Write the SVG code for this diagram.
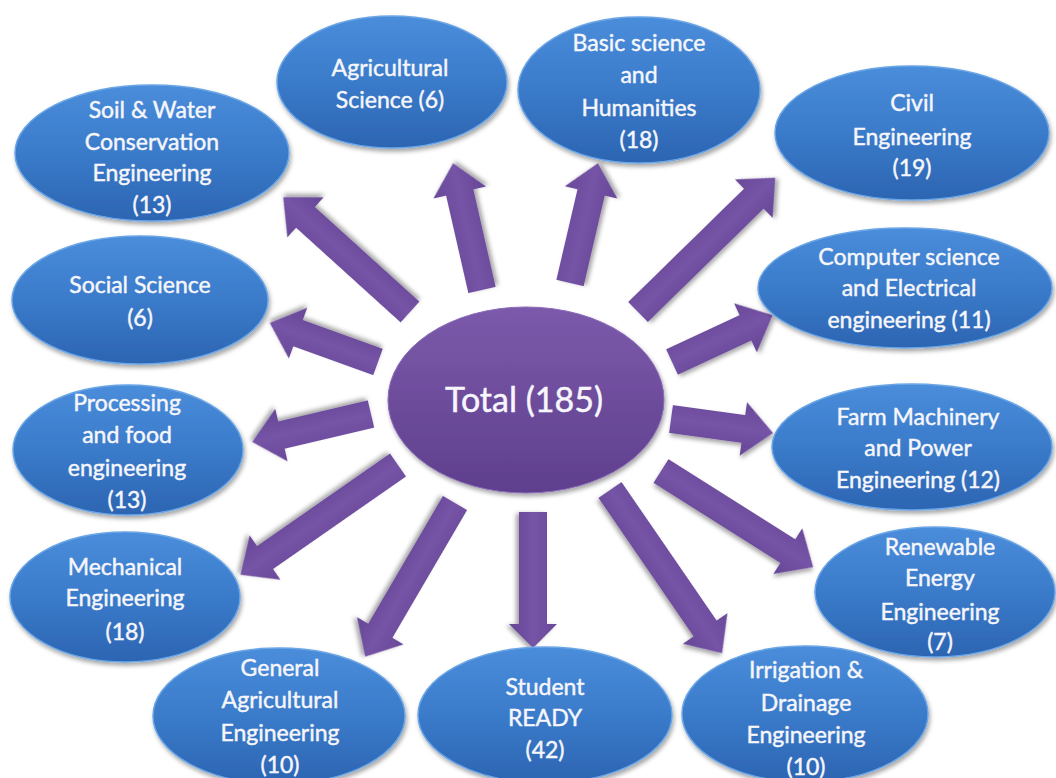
<svg xmlns="http://www.w3.org/2000/svg" width="1056" height="778" viewBox="0 0 1056 778">
  <defs>
    <linearGradient id="gBlue" x1="0" y1="0" x2="0" y2="1">
      <stop offset="0" stop-color="#4a8ddb"/>
      <stop offset="0.5" stop-color="#3a7bca"/>
      <stop offset="1" stop-color="#2c65b2"/>
    </linearGradient>
    <linearGradient id="gPurple" x1="0" y1="0" x2="0" y2="1">
      <stop offset="0" stop-color="#7c5aab"/>
      <stop offset="1" stop-color="#5e3f8d"/>
    </linearGradient>
    <linearGradient id="gArrow" x1="0" y1="0" x2="0" y2="1">
      <stop offset="0" stop-color="#6a4a99"/>
      <stop offset="0.5" stop-color="#7553a6"/>
      <stop offset="1" stop-color="#664795"/>
    </linearGradient>
    <filter id="shadow" x="-10%" y="-10%" width="125%" height="130%">
      <feDropShadow dx="1.5" dy="3" stdDeviation="2.2" flood-color="#000" flood-opacity="0.35"/>
    </filter>
  </defs>
  <style>
    .node ellipse { fill: url(#gBlue); stroke: #6aa5e6; stroke-width: 1.5; filter: url(#shadow); }
    .center ellipse { fill: url(#gPurple); stroke: #8a6ab8; stroke-width: 1; filter: url(#shadow); }
    .arrow { fill: url(#gArrow); filter: url(#shadow); }
    text { font-family: Lato, "Open Sans", "Liberation Sans", sans-serif; fill: #f6f6fb; stroke: #f6f6fb; stroke-width: 0.45; text-anchor: middle; }
    .lbl { font-size: 23px; }
    .big { font-size: 34px; }
  </style>
  <rect width="1056" height="778" fill="#ffffff"/>

  <g id="connectors">
    <path class="arrow" transform="translate(410,312) rotate(-137.84)" d="M0,-14 H141 V-27 L171,0 L141,27 V14 H0 Z"/>
    <path class="arrow" transform="translate(482,290) rotate(-102.86)" d="M0,-14 H100 V-27 L130,0 L100,27 V14 H0 Z"/>
    <path class="arrow" transform="translate(570,283) rotate(-76.87)" d="M0,-14 H93 V-27 L123,0 L93,27 V14 H0 Z"/>
    <path class="arrow" transform="translate(638,312) rotate(-44.37)" d="M0,-14 H162 V-27 L192,0 L162,27 V14 H0 Z"/>
    <path class="arrow" transform="translate(378,362) rotate(-160.15)" d="M0,-14 H85 V-27 L115,0 L85,27 V14 H0 Z"/>
    <path class="arrow" transform="translate(672,362) rotate(-24.95)" d="M0,-14 H81 V-27 L111,0 L81,27 V14 H0 Z"/>
    <path class="arrow" transform="translate(371,414) rotate(166.76)" d="M0,-14 H92 V-27 L122,0 L92,27 V14 H0 Z"/>
    <path class="arrow" transform="translate(671,419) rotate(7.82)" d="M0,-14 H73 V-27 L103,0 L73,27 V14 H0 Z"/>
    <path class="arrow" transform="translate(398,465) rotate(145.15)" d="M0,-14 H162 V-27 L192,0 L162,27 V14 H0 Z"/>
    <path class="arrow" transform="translate(455,503) rotate(120.31)" d="M0,-14 H148 V-27 L178,0 L148,27 V14 H0 Z"/>
    <path class="arrow" transform="translate(533,512) rotate(90)" d="M0,-14 H112 V-24 L136,0 L112,24 V14 H0 Z"/>
    <path class="arrow" transform="translate(610,490) rotate(55.51)" d="M0,-14 H168 V-27 L198,0 L168,27 V14 H0 Z"/>
    <path class="arrow" transform="translate(661,471) rotate(32.28)" d="M0,-14 H150 V-27 L180,0 L150,27 V14 H0 Z"/>
  </g>

  <g id="total" class="center">
    <ellipse cx="526" cy="400" rx="138" ry="93"/>
    <text class="big" x="524" y="412">Total (185)</text>
  </g>

  <g id="soil" class="node">
    <ellipse cx="152" cy="153" rx="137" ry="68"/>
    <text class="lbl" x="152" y="118">Soil &amp; Water</text>
    <text class="lbl" x="152" y="150">Conservation</text>
    <text class="lbl" x="152" y="181">Engineering</text>
    <text class="lbl" x="152" y="213">(13)</text>
  </g>

  <g id="agsci" class="node">
    <ellipse cx="392" cy="82" rx="115" ry="66"/>
    <text class="lbl" x="390" y="76">Agricultural</text>
    <text class="lbl" x="390" y="108">Science (6)</text>
  </g>

  <g id="basic" class="node">
    <ellipse cx="639" cy="90" rx="121" ry="73"/>
    <text class="lbl" x="639" y="51">Basic science</text>
    <text class="lbl" x="639" y="83">and</text>
    <text class="lbl" x="639" y="116">Humanities</text>
    <text class="lbl" x="639" y="148">(18)</text>
  </g>

  <g id="civil" class="node">
    <ellipse cx="912" cy="133" rx="137" ry="67"/>
    <text class="lbl" x="912" y="111">Civil</text>
    <text class="lbl" x="912" y="145">Engineering</text>
    <text class="lbl" x="912" y="176">(19)</text>
  </g>

  <g id="social" class="node">
    <ellipse cx="140" cy="300" rx="128" ry="64"/>
    <text class="lbl" x="140" y="293">Social Science</text>
    <text class="lbl" x="140" y="326">(6)</text>
  </g>

  <g id="computer" class="node">
    <ellipse cx="905" cy="288" rx="147" ry="60"/>
    <text class="lbl" x="909" y="265">Computer science</text>
    <text class="lbl" x="909" y="296">and Electrical</text>
    <text class="lbl" x="909" y="328">engineering (11)</text>
  </g>

  <g id="processing" class="node">
    <ellipse cx="128" cy="450" rx="115" ry="65"/>
    <text class="lbl" x="127" y="411">Processing</text>
    <text class="lbl" x="127" y="443">and food</text>
    <text class="lbl" x="127" y="476">engineering</text>
    <text class="lbl" x="127" y="508">(13)</text>
  </g>

  <g id="farm" class="node">
    <ellipse cx="912" cy="447" rx="140" ry="63"/>
    <text class="lbl" x="918" y="425">Farm Machinery</text>
    <text class="lbl" x="918" y="456">and Power</text>
    <text class="lbl" x="918" y="488">Engineering (12)</text>
  </g>

  <g id="mechanical" class="node">
    <ellipse cx="125" cy="597" rx="115" ry="65"/>
    <text class="lbl" x="125" y="575">Mechanical</text>
    <text class="lbl" x="125" y="606">Engineering</text>
    <text class="lbl" x="125" y="640">(18)</text>
  </g>

  <g id="renewable" class="node">
    <ellipse cx="935" cy="592" rx="120" ry="65"/>
    <text class="lbl" x="940" y="555">Renewable</text>
    <text class="lbl" x="940" y="586">Energy</text>
    <text class="lbl" x="940" y="620">Engineering</text>
    <text class="lbl" x="940" y="650">(7)</text>
  </g>

  <g id="general" class="node">
    <ellipse cx="279" cy="716" rx="126" ry="68"/>
    <text class="lbl" x="280" y="676">General</text>
    <text class="lbl" x="280" y="708">Agricultural</text>
    <text class="lbl" x="280" y="741">Engineering</text>
    <text class="lbl" x="280" y="773">(10)</text>
  </g>

  <g id="student" class="node">
    <ellipse cx="545" cy="715" rx="127" ry="68"/>
    <text class="lbl" x="545" y="695">Student</text>
    <text class="lbl" x="545" y="726">READY</text>
    <text class="lbl" x="545" y="758">(42)</text>
  </g>

  <g id="irrigation" class="node">
    <ellipse cx="805" cy="714" rx="123" ry="68"/>
    <text class="lbl" x="806" y="678">Irrigation &amp;</text>
    <text class="lbl" x="806" y="711">Drainage</text>
    <text class="lbl" x="806" y="743">Engineering</text>
    <text class="lbl" x="806" y="775">(10)</text>
  </g>
</svg>
